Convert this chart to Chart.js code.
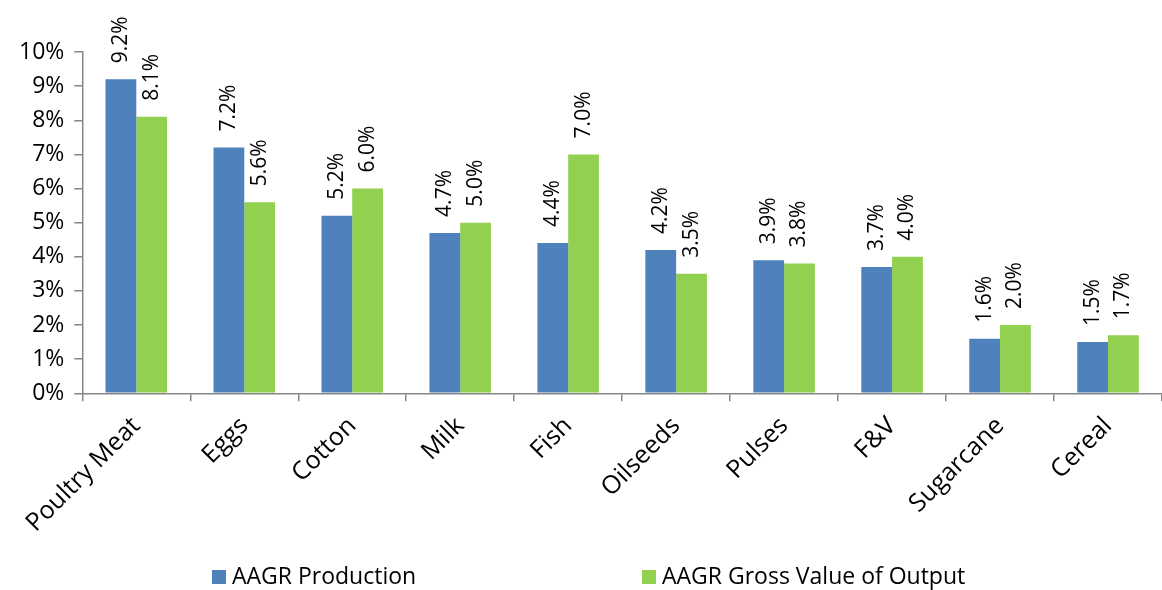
<!DOCTYPE html>
<html>
<head>
<meta charset="utf-8">
<script src="https://cdn.jsdelivr.net/npm/chart.js@4.4.1/dist/chart.umd.min.js"></script>
<style>
  html, body { margin: 0; padding: 0; background: #fff; }
  #wrap { width: 1162px; height: 590px; }
</style>
</head>
<body>
<div id="wrap"><canvas id="grafica"></canvas></div>
<script>
// ── datos ───────────────────────────────
const categorias = ["Poultry Meat", "Eggs", "Cotton", "Milk", "Fish", "Oilseeds", "Pulses", "F&V", "Sugarcane", "Cereal"];
const produccion = [9.2, 7.2, 5.2, 4.7, 4.4, 4.2, 3.9, 3.7, 1.6, 1.5];
const valorBruto = [8.1, 5.6, 6.0, 5.0, 7.0, 3.5, 3.8, 4.0, 2.0, 1.7];
const ticksY     = [0, 1, 2, 3, 4, 5, 6, 7, 8, 9, 10];

const AZUL  = "#4f81bd";
const VERDE = "#92d050";
const GRIS  = "#868686";
const FUENTE = "'Open Sans', sans-serif";

// etiquetas verticales encima de cada barra
const etiquetasBarras = {
  id: "etiquetasBarras",
  afterDatasetsDraw(chart) {
    const ctx = chart.ctx;
    ctx.save();
    ctx.font = "21px " + FUENTE;
    ctx.fillStyle = "#000";
    ctx.textAlign = "left";
    ctx.textBaseline = "middle";
    chart.data.datasets.forEach((ds, i) => {
      chart.getDatasetMeta(i).data.forEach((bar, j) => {
        ctx.save();
        ctx.translate(bar.x, bar.y - 16);
        ctx.rotate(-Math.PI / 2);
        ctx.fillText(ds.data[j].toFixed(1) + "%", 0, 0);
        ctx.restore();
      });
    });
    ctx.restore();
  }
};

// leyenda abajo, dos elementos separados
const leyenda = {
  id: "leyenda",
  afterDraw(chart) {
    const ctx = chart.ctx;
    const posX = [212, 642];
    const y = 577;
    ctx.save();
    ctx.font = "23px " + FUENTE;
    ctx.textBaseline = "middle";
    ctx.textAlign = "left";
    chart.data.datasets.forEach((ds, i) => {
      ctx.fillStyle = ds.backgroundColor;
      ctx.fillRect(posX[i], y - 7, 14, 14);
      ctx.fillStyle = "#000";
      ctx.fillText(ds.label, posX[i] + 20, y);
    });
    ctx.restore();
  }
};

new Chart(document.getElementById("grafica"), {
  type: "bar",
  data: {
    labels: categorias,
    datasets: [
      { label: "AAGR Production", data: produccion, backgroundColor: AZUL },
      { label: "AAGR Gross Value of Output", data: valorBruto, backgroundColor: VERDE }
    ]
  },
  options: {
    responsive: true,
    maintainAspectRatio: false,
    animation: false,
    categoryPercentage: 0.57,
    barPercentage: 1.0,
    layout: { padding: { top: 52, right: 0, left: 9, bottom: 42 } },
    plugins: {
      legend: { display: false },
      tooltip: { enabled: false }
    },
    scales: {
      x: {
        offset: true,
        grid: { display: true, drawOnChartArea: false, offset: true, color: GRIS, tickLength: 8, lineWidth: 1.5 },
        border: { color: GRIS, width: 1.5 },
        ticks: {
          color: "#000",
          font: { family: FUENTE, size: 25 },
          maxRotation: 45,
          minRotation: 45,
          padding: 10
        }
      },
      y: {
        min: 0,
        max: ticksY[ticksY.length - 1],
        afterBuildTicks: axis => { axis.ticks = ticksY.map(v => ({ value: v })); },
        grid: { display: true, drawOnChartArea: false, color: GRIS, tickLength: 8, lineWidth: 1.5 },
        border: { color: GRIS, width: 1.5 },
        ticks: {
          color: "#000",
          font: { family: FUENTE, size: 23 },
          padding: 10,
          callback: v => v + "%"
        }
      }
    }
  },
  plugins: [etiquetasBarras, leyenda]
});
</script>
</body>
</html>
